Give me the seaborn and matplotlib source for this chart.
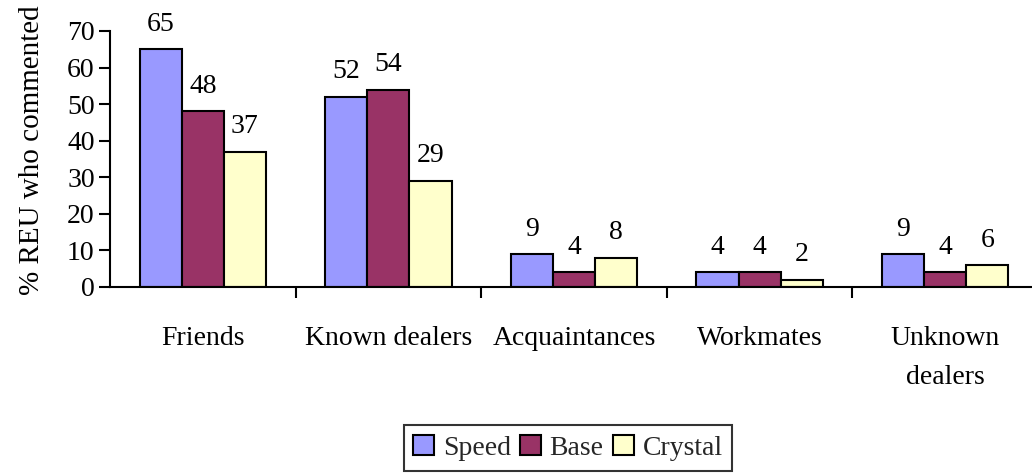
import matplotlib
matplotlib.use("Agg")
import matplotlib.pyplot as plt
import seaborn as sns
import pandas as pd
import numpy as np
from matplotlib.ticker import FixedLocator

categories = ["Friends", "Known dealers", "Acquaintances", "Workmates", "Unknown\ndealers"]
series = ["Speed", "Base", "Crystal"]
speed = [65, 52, 9, 4, 9]
base = [48, 54, 4, 4, 4]
crystal = [37, 29, 8, 2, 6]
colors = ["#9999FF", "#993366", "#FFFFCC"]

df = pd.DataFrame({
    "category": categories * 3,
    "series": [s for s in series for _ in categories],
    "value": speed + base + crystal,
})

sns.set_theme(style="white")
plt.rcParams["font.family"] = ["Liberation Serif", "DejaVu Serif"]
FS = 20
plt.rcParams["font.size"] = FS

fig = plt.figure(figsize=(10.32, 4.75), dpi=100)
ax = fig.add_axes([110/1032, 1 - 287/475, (1032 - 110)/1032, (287 - 31)/475])

sns.barplot(data=df, x="category", y="value", hue="series", order=categories,
            hue_order=series, palette=colors, width=0.68, ax=ax,
            edgecolor="black", linewidth=1.5, saturation=1, legend=True)

for cont in ax.containers:
    ax.bar_label(cont, padding=9, fontsize=FS, color="black")

ax.set_ylim(0, 70)
ax.set_xlim(-0.5, -0.5 + (1032 - 110) / 185.6)
ax.set_yticks(np.arange(0, 71, 10))
ax.set_ylabel("% REU who commented", fontsize=21, color="black")
ax.yaxis.set_label_coords(-0.071, 0.535)
ax.set_xlabel("")
ax.tick_params(axis="y", direction="out", length=8, width=1.5, left=True,
               labelsize=FS, labelcolor="black", color="black", pad=3)
ax.tick_params(axis="x", which="major", length=0, labelsize=FS, labelcolor="black", pad=28)
ax.xaxis.set_minor_locator(FixedLocator([0.5, 1.5, 2.5, 3.5, 4.5]))
ax.tick_params(axis="x", which="minor", direction="out", length=8, width=1.5,
               bottom=True, color="black")
for lab in ax.get_xticklabels():
    lab.set_verticalalignment("top")
    lab.set_linespacing(1.75)

for s in ["top", "right"]:
    ax.spines[s].set_visible(False)
for s in ["left", "bottom"]:
    ax.spines[s].set_color("black")
    ax.spines[s].set_linewidth(1.5)
ax.grid(False)

handles, labels = ax.get_legend_handles_labels()
ax.legend_.remove()
leg = fig.legend(handles, labels, loc="center", bbox_to_anchor=(568/1032, 1 - 448/475),
                 ncol=3, frameon=True, fancybox=False, edgecolor="black",
                 fontsize=FS, handlelength=0.75, handleheight=0.75, handletextpad=0.3,
                 columnspacing=0.35, borderpad=0.35, borderaxespad=0)
leg.get_frame().set_linewidth(1.5)

fig.savefig("out.png", dpi=100)
